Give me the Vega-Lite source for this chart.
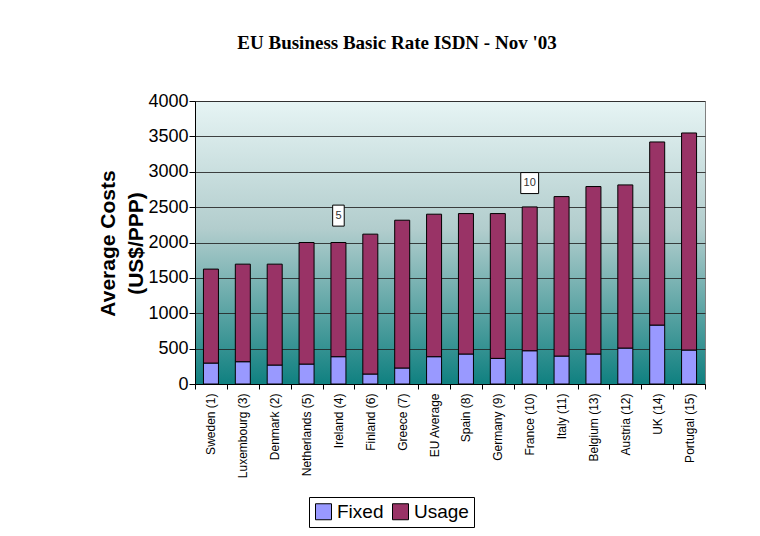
{
  "$schema": "https://vega.github.io/schema/vega-lite/v6.json",
  "width": 510,
  "height": 283,
  "autosize": {"type": "none"},
  "padding": {"left": 195, "top": 101, "right": 55, "bottom": 152},
  "background": "white",
  "title": {
    "text": "EU Business Basic Rate ISDN - Nov '03",
    "font": "Liberation Serif",
    "fontSize": 19,
    "fontWeight": "bold",
    "color": "black",
    "anchor": "middle",
    "dx": -53,
    "offset": 39
  },
  "config": {
    "view": {
      "stroke": "#808080",
      "fill": {
        "gradient": "linear",
        "x1": 0, "y1": 0, "x2": 0, "y2": 1,
        "stops": [
          {"offset": 0, "color": "#e6f4f4"},
          {"offset": 0.45, "color": "#b2cdcd"},
          {"offset": 1, "color": "#0f8080"}
        ]
      }
    },
    "font": "Liberation Sans"
  },
  "data": {
    "values": [
      {"country": "Sweden (1)", "type": "Fixed", "value": 296},
      {"country": "Sweden (1)", "type": "Usage", "value": 1328},
      {"country": "Luxembourg (3)", "type": "Fixed", "value": 315},
      {"country": "Luxembourg (3)", "type": "Usage", "value": 1379},
      {"country": "Denmark (2)", "type": "Fixed", "value": 268},
      {"country": "Denmark (2)", "type": "Usage", "value": 1426},
      {"country": "Netherlands (5)", "type": "Fixed", "value": 282},
      {"country": "Netherlands (5)", "type": "Usage", "value": 1718},
      {"country": "Ireland (4)", "type": "Fixed", "value": 386},
      {"country": "Ireland (4)", "type": "Usage", "value": 1614},
      {"country": "Finland (6)", "type": "Fixed", "value": 141},
      {"country": "Finland (6)", "type": "Usage", "value": 1977},
      {"country": "Greece (7)", "type": "Fixed", "value": 226},
      {"country": "Greece (7)", "type": "Usage", "value": 2089},
      {"country": "EU Average", "type": "Fixed", "value": 386},
      {"country": "EU Average", "type": "Usage", "value": 2014},
      {"country": "Spain (8)", "type": "Fixed", "value": 424},
      {"country": "Spain (8)", "type": "Usage", "value": 1985},
      {"country": "Germany (9)", "type": "Fixed", "value": 362},
      {"country": "Germany (9)", "type": "Usage", "value": 2047},
      {"country": "France (10)", "type": "Fixed", "value": 470},
      {"country": "France (10)", "type": "Usage", "value": 2033},
      {"country": "Italy (11)", "type": "Fixed", "value": 395},
      {"country": "Italy (11)", "type": "Usage", "value": 2254},
      {"country": "Belgium (13)", "type": "Fixed", "value": 424},
      {"country": "Belgium (13)", "type": "Usage", "value": 2367},
      {"country": "Austria (12)", "type": "Fixed", "value": 508},
      {"country": "Austria (12)", "type": "Usage", "value": 2306},
      {"country": "UK (14)", "type": "Fixed", "value": 833},
      {"country": "UK (14)", "type": "Usage", "value": 2588},
      {"country": "Portugal (15)", "type": "Fixed", "value": 480},
      {"country": "Portugal (15)", "type": "Usage", "value": 3068}
    ]
  },
  "encoding": {
    "x": {
      "field": "country",
      "type": "nominal",
      "sort": null,
      "scale": {"paddingInner": 0, "paddingOuter": 0},
      "axis": {
        "title": null,
        "labelAngle": -90,
        "labelAlign": "right",
        "labelBaseline": "middle",
        "labelFontSize": 12,
        "labelColor": "black",
        "labelPadding": 4,
        "domainColor": "black",
        "tickColor": "black",
        "tickSize": 5,
        "tickBand": "extent"
      }
    },
    "y": {
      "field": "value",
      "type": "quantitative",
      "scale": {"domain": [0, 4000], "nice": false},
      "axis": {
        "title": ["Average Costs", "(US$/PPP)"],
        "titleFont": "Liberation Sans",
        "titleFontSize": 21,
        "titleFontWeight": "bold",
        "titleColor": "black",
        "titleAngle": -90,
        "titleAlign": "center",
        "titleBaseline": "middle",
        "titleLineHeight": 28,
        "titleX": -87,
        "titleY": 142,
        "values": [0, 500, 1000, 1500, 2000, 2500, 3000, 3500, 4000],
        "format": "d",
        "labelOverlap": false,
        "labelFontSize": 18,
        "labelColor": "black",
        "labelPadding": 1,
        "tickSize": 6,
        "tickColor": "black",
        "domainColor": "black",
        "grid": true,
        "gridColor": "#222222",
        "gridOpacity": 0.85
      }
    }
  },
  "layer": [
    {
      "mark": {"type": "bar", "stroke": "black", "strokeWidth": 1, "width": 15},
      "encoding": {
        "order": {"field": "type", "sort": "ascending"},
        "color": {
          "field": "type",
          "type": "nominal",
          "scale": {"domain": ["Fixed", "Usage"], "range": ["#9999ff", "#993366"]},
          "legend": {
            "title": null,
            "orient": "none",
            "direction": "horizontal",
            "legendX": 114,
            "legendY": 396,
            "strokeColor": "black",
            "fillColor": "white",
            "padding": 5,
            "symbolType": "square",
            "symbolSize": 256,
            "symbolStrokeColor": "black",
            "symbolStrokeWidth": 1,
            "symbolOpacity": 1,
            "labelFontSize": 19,
            "labelColor": "black",
            "labelOffset": 4,
            "columnPadding": 6
          }
        }
      }
    },
    {
      "data": {
        "values": [
          {"country": "Ireland (4)", "value": 2380, "label": "5"},
          {"country": "France (10)", "value": 2840, "label": "10"}
        ]
      },
      "mark": {"type": "point", "filled": true, "fill": "white", "stroke": "black", "strokeWidth": 1, "opacity": 1, "size": 441},
      "encoding": {
        "shape": {
          "field": "label",
          "type": "nominal",
          "scale": {"domain": ["5", "10"], "range": ["M-0.55,-1H0.55V1H-0.55Z", "M-0.85,-1H0.85V1H-0.85Z"]},
          "legend": null
        }
      }
    },
    {
      "data": {
        "values": [
          {"country": "Ireland (4)", "value": 2380, "label": "5"},
          {"country": "France (10)", "value": 2840, "label": "10"}
        ]
      },
      "mark": {"type": "text", "fontSize": 11, "color": "#333333", "baseline": "middle", "align": "center"},
      "encoding": {
        "text": {"field": "label"}
      }
    }
  ]
}
